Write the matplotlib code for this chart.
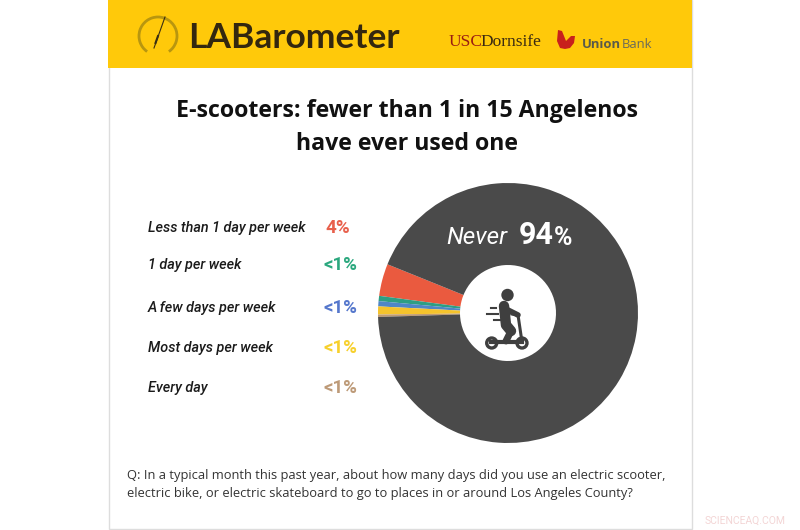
import matplotlib
matplotlib.use('Agg')
import matplotlib.pyplot as plt
from matplotlib.patches import Rectangle, Circle, Arc, PathPatch
from matplotlib.path import Path

title_lines = ['E-scooters: fewer than 1 in 15 Angelenos', 'have ever used one']
question_lines = [
    'Q: In a typical month this past year, about how many days did you use an electric scooter,',
    'electric bike, or electric skateboard to go to places in or around Los Angeles County?',
]

categories = ['Less than 1 day per week', '1 day per week', 'A few days per week',
              'Most days per week', 'Every day']
value_labels = ['4%', '<1%', '<1%', '<1%', '<1%']
label_colors = ['#E8604C', '#2BA87E', '#5577CC', '#F7D02C', '#BD9A78']
label_ys = [228, 265, 308, 348, 388]
label_xs = [325, 323, 323, 323, 323]

# slices in pie order, going round from the red one
slice_values = [4.0, 0.65, 0.65, 1.0, 0.3, 93.4]
slice_colors = ['#EA5A3F', '#2E9E83', '#4F86C6', '#F5C32C', '#C09A70', '#4A4A4A']

fig = plt.figure(figsize=(8, 5.3), dpi=100)

# background, in pixel coordinates
bg = fig.add_axes([0, 0, 1, 1], zorder=0)
bg.set_xlim(0, 800)
bg.set_ylim(530, 0)
bg.axis('off')
bg.add_patch(Rectangle((108.5, 0), 583, 529, fc='white', ec='#DDDDDD', lw=1))
bg.add_patch(Rectangle((108, 0), 584, 68, fc='#FFC90A', ec='none'))

# pie
pie_ax = fig.add_axes([378 / 800, (530 - 443) / 530, 260 / 800, 260 / 530], zorder=1)
pie_ax.patch.set_visible(False)
pie_ax.pie(slice_values, colors=slice_colors, startangle=158, counterclock=True,
           radius=1, wedgeprops=dict(width=1 - 48 / 130, linewidth=0))
pie_ax.set_xlim(-1, 1)
pie_ax.set_ylim(-1, 1)

# everything else on top
top = fig.add_axes([0, 0, 1, 1], zorder=2)
top.set_xlim(0, 800)
top.set_ylim(530, 0)
top.axis('off')

# header logo
top.add_patch(Arc((158, 36), 38, 38, theta1=125, theta2=55, color='#B8960F', lw=2))
top.plot([154, 165], [48, 17], color='#3A2E12', lw=0.8)
top.plot([155.5, 158], [43, 36], color='#3A2E12', lw=1.5)
top.text(188, 38, 'LABarometer', family='Lato', weight='bold', fontsize=25.5,
         color='#33270F', va='center', ha='left')
top.text(449, 42, 'USC', family='Liberation Serif', fontsize=12.5, color='#9A1B12',
         va='center', ha='left')
top.text(480, 42, 'Dornsife', family='Liberation Serif', fontsize=12.5, color='#3A2A12',
         va='center', ha='left')
tulip = Path([(558, 30), (562, 31), (564, 36), (566, 41), (569, 38), (571, 36), (575, 36),
              (574, 43), (570, 48), (565, 49), (560, 48), (557, 41), (558, 30)],
             [Path.MOVETO] + [Path.LINETO] * 12)
top.add_patch(PathPatch(tulip, fc='#C8201C', ec='none'))
top.text(582, 44, 'Union', family='Open Sans', weight='bold', fontsize=9.4, color='#5A5A4A',
         va='center', ha='left')
top.text(622, 44, 'Bank', family='Open Sans', fontsize=9.4, color='#6A6A5A',
         va='center', ha='left')

# title
top.text(407, 111, title_lines[0], family='Open Sans', weight='bold', fontsize=16.7,
         color='#111111', ha='center', va='center')
top.text(407, 144, title_lines[1], family='Open Sans', weight='bold', fontsize=16.7,
         color='#111111', ha='center', va='center')

# legend rows
for name, val, col, x, y in zip(categories, value_labels, label_colors, label_xs, label_ys):
    top.text(148, y, name, family='Roboto', style='italic', weight='medium', fontsize=10.4,
             color='#1A1A1A', ha='left', va='center')
    top.text(x, y, val, family='Roboto', weight='bold', fontsize=13.5, color=col,
             ha='left', va='center')

# label on the big slice
top.text(446, 237, 'Never', family='Roboto', style='italic', fontsize=17.5, color='white',
         ha='left', va='center')
top.text(519, 235, '94', family='Roboto', weight='bold', fontsize=22, color='white',
         ha='left', va='center')
top.text(554, 238, '%', family='Roboto', weight='bold', fontsize=18, color='white',
         ha='left', va='center')

# scooter icon
icon = '#3F3F3F'
top.add_patch(Circle((507.5, 295), 6.2, fc=icon, ec='none'))
top.plot([504, 506, 511], [306, 325, 331], color=icon, lw=7.5, solid_capstyle='round')
top.plot([511, 506], [331, 341], color=icon, lw=5, solid_capstyle='round')
top.plot([506, 518], [309, 315], color=icon, lw=4, solid_capstyle='round')
top.plot([491, 522], [342, 342], color=icon, lw=3)
top.plot([522, 518, 512], [342, 315, 314], color=icon, lw=2.2)
for x in [491.7, 522]:
    top.add_patch(Circle((x, 343), 5, fc='white', ec=icon, lw=2.4))
for x0, x1, y in [(491, 496, 308), (487, 498, 314), (494, 500, 320)]:
    top.plot([x0, x1], [y, y], color=icon, lw=1.5)

# question
top.text(127, 476, question_lines[0], family='Open Sans', fontsize=9.27, color='#333333',
         ha='left', va='center')
top.text(127, 493, question_lines[1], family='Open Sans', fontsize=9.27, color='#333333',
         ha='left', va='center')

# watermark
top.text(786, 521, 'SCIENCEAQ.COM', family='Roboto', fontsize=7.5, color='#F3D5D5',
         ha='right', va='center')

fig.savefig('out.png', dpi=100)
